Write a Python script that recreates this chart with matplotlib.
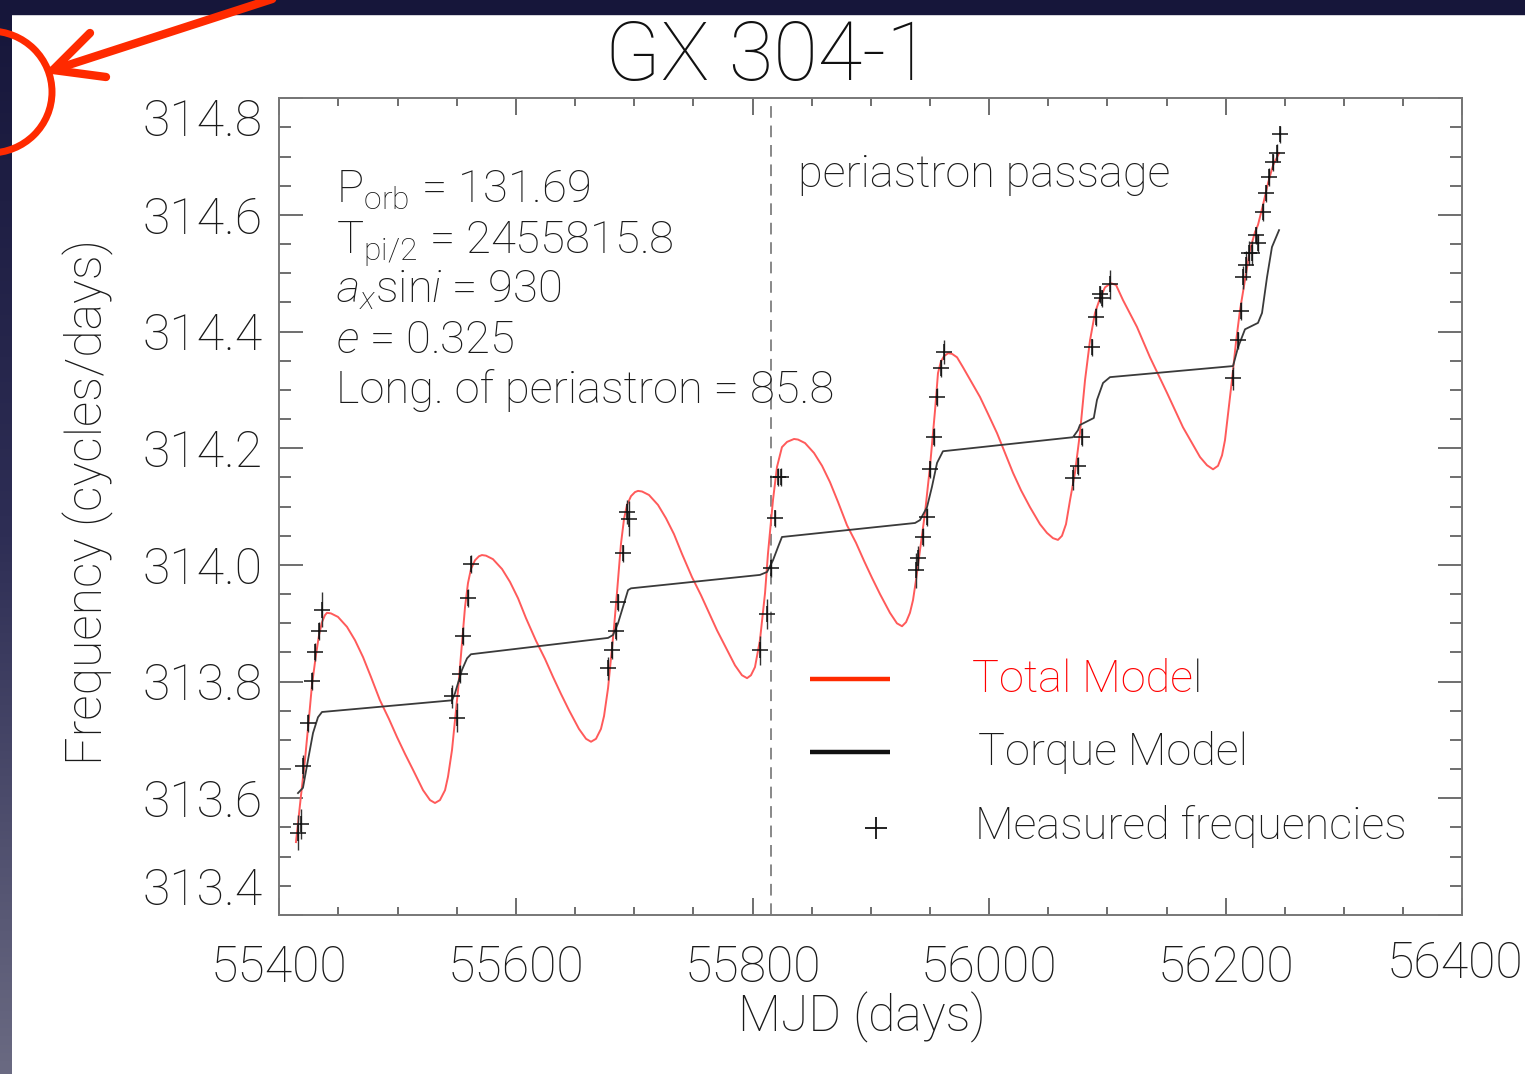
import numpy as np
import matplotlib.pyplot as plt
from matplotlib.ticker import MultipleLocator, FormatStrFormatter
from matplotlib.patches import Rectangle, Arc
from matplotlib.colors import LinearSegmentedColormap
from matplotlib.transforms import ScaledTranslation

plt.rcParams['font.family'] = ['Roboto', 'DejaVu Sans']
plt.rcParams['font.weight'] = 'light'
plt.rcParams['mathtext.fontset'] = 'custom'
plt.rcParams['mathtext.rm'] = 'Roboto:light'
plt.rcParams['mathtext.it'] = 'Roboto:light:italic'

# total model: orbital Doppler shift on top of the torque model
model_mjd = [55414.1, 55418.4, 55421.7, 55425.1, 55427.6, 55431.0, 55433.6, 55436.1, 55438.6, 55440.3,
             55443.7, 55449.6, 55457.2, 55464.0, 55470.8, 55477.5, 55485.1, 55492.7, 55499.5,
             55506.3, 55513.0, 55521.5, 55527.4, 55531.6,
             55535.8, 55540.1, 55542.6, 55546.0, 55548.5, 55551.1, 55553.6, 55557.0, 55559.5,
             55562.0, 55565.4, 55568.8, 55571.3,
             55574.7, 55580.6, 55588.3, 55595.0, 55601.8, 55608.5, 55617.0, 55624.6, 55631.4,
             55638.1, 55644.9, 55653.3, 55659.3, 55663.5,
             55667.7, 55671.9, 55674.5, 55677.9, 55680.4, 55682.9, 55685.5, 55688.8, 55691.4,
             55693.9, 55697.3, 55700.7, 55703.2,
             55706.6, 55712.5, 55720.1, 55726.9, 55733.6, 55740.4, 55748.9, 55756.5, 55763.2,
             55770.0, 55776.8, 55785.2, 55791.1, 55795.4,
             55798.7, 55802.1, 55806.3, 55810.6, 55813.1, 55817.3, 55820.7, 55824.9, 55829.2, 55835.1,
             55838.5, 55844.4, 55852.0, 55858.8, 55865.5, 55872.3, 55879.9, 55887.5, 55894.3,
             55901.0, 55907.8, 55916.2, 55922.1, 55926.4,
             55929.8, 55933.1, 55935.7, 55938.2, 55941.6, 55945.8, 55950.0, 55954.3, 55956.8,
             55959.3, 55961.9, 55965.3,
             55968.6, 55972.9, 55977.9, 55984.7, 55992.3, 55999.1, 56006.7, 56013.4, 56020.2,
             56027.0, 56034.6, 56043.0, 56048.9, 56054.0, 56058.2,
             56061.6, 56065.0, 56068.4, 56072.6, 56076.8, 56081.1, 56085.3, 56089.5, 56093.7,
             56098.0, 56103.0,
             56107.3, 56113.2, 56125.0, 56136.0, 56150.4, 56163.9, 56178.3, 56184.2, 56189.3,
             56193.5, 56196.9, 56199.4, 56201.9, 56205.3, 56208.7, 56212.1, 56216.3, 56220.5,
             56224.8, 56227.3, 56231.5, 56235.8, 56240.0, 56245.1]
model_freq = [313.525, 313.606, 313.666, 313.738, 313.794, 313.846, 313.880, 313.902, 313.914, 313.918,
              313.917, 313.911, 313.894, 313.871, 313.842, 313.808, 313.768, 313.736, 313.705,
              313.676, 313.649, 313.614, 313.597, 313.592,
              313.597, 313.614, 313.637, 313.683, 313.734, 313.786, 313.846, 313.928, 313.969,
              313.993, 314.008, 314.015, 314.017,
              314.016, 314.010, 313.993, 313.971, 313.943, 313.909, 313.870, 313.839, 313.808,
              313.779, 313.751, 313.719, 313.702, 313.697,
              313.702, 313.719, 313.741, 313.789, 313.840, 313.892, 313.954, 314.036, 314.079,
              314.103, 314.118, 314.125, 314.127,
              314.126, 314.120, 314.103, 314.080, 314.053, 314.019, 313.979, 313.948, 313.918,
              313.888, 313.861, 313.828, 313.811, 313.806,
              313.811, 313.825, 313.871, 313.952, 314.020, 314.111, 314.168, 314.202, 314.211, 314.216,
              314.215, 314.209, 314.192, 314.170, 314.142, 314.108, 314.068, 314.038, 314.007,
              313.978, 313.950, 313.918, 313.900, 313.895,
              313.902, 313.918, 313.940, 313.974, 314.026, 314.089, 314.168, 314.265, 314.329,
              314.349, 314.358, 314.363,
              314.362, 314.356, 314.339, 314.315, 314.288, 314.259, 314.226, 314.192, 314.158,
              314.128, 314.099, 314.070, 314.055, 314.046, 314.043,
              314.050, 314.070, 314.111, 314.158, 314.226, 314.317, 314.385, 314.432, 314.457,
              314.476, 314.483,
              314.480, 314.454, 314.408, 314.356, 314.295, 314.236, 314.185, 314.171, 314.164,
              314.170, 314.188, 314.214, 314.257, 314.317, 314.382, 314.437, 314.488, 314.540,
              314.571, 314.583, 314.617, 314.655, 314.685, 314.706]

# torque model alone
torque_mjd = [55415.8, 55420.0, 55424.3, 55428.5, 55432.7, 55436.1,
              55546.0, 55548.5, 55554.4, 55558.7, 55562.0,
              55677.9, 55682.1, 55686.3, 55690.5, 55694.8, 55697.3,
              55806.3, 55812.3, 55817.3, 55821.6, 55824.9,
              55937.4, 55941.6, 55947.5, 55951.7, 55956.0, 55961.0,
              56070.9, 56075.1, 56076.8, 56088.5, 56091.2, 56096.3, 56102.2,
              56206.2, 56210.4, 56216.3, 56227.3, 56230.7, 56234.9, 56239.1, 56245.1]
torque_freq = [313.609, 313.618, 313.666, 313.712, 313.739, 313.748,
               313.768, 313.780, 313.820, 313.840, 313.847,
               313.875, 313.880, 313.900, 313.928, 313.957, 313.960,
               313.983, 313.988, 314.008, 314.031, 314.048,
               314.072, 314.077, 314.099, 314.134, 314.175, 314.195,
               314.219, 314.231, 314.240, 314.252, 314.283, 314.312, 314.322,
               314.341, 314.373, 314.404, 314.415, 314.432, 314.493, 314.545, 314.574]

# measured spin frequencies
obs_mjd = [55415.8, 55418.3, 55420.0, 55424.3, 55427.6, 55430.2, 55433.6, 55436.1,
           55546.0, 55550.2, 55552.7, 55555.3, 55559.5, 55562.0,
           55677.9, 55681.2, 55684.6, 55686.3, 55690.5, 55693.9, 55695.6,
           55806.3, 55812.3, 55815.6, 55819.0, 55821.6, 55824.1,
           55938.2, 55939.9, 55944.1, 55947.5, 55950.0, 55953.4, 55955.9, 55959.3, 55961.9,
           56070.9, 56075.1, 56078.5, 56087.0, 56090.4, 56093.8, 56095.5, 56102.2,
           56206.2, 56210.4, 56213.0, 56214.7, 56217.2, 56219.7, 56222.2, 56225.6, 56227.3,
           56231.5, 56234.1, 56236.6, 56240.0, 56243.4, 56245.9]
obs_freq = [313.541, 313.556, 313.655, 313.729, 313.801, 313.851, 313.887, 313.923,
            313.775, 313.738, 313.813, 313.878, 313.943, 314.002,
            313.823, 313.854, 313.887, 313.936, 314.020, 314.091, 314.079,
            313.854, 313.916, 313.995, 314.080, 314.151, 314.151,
            313.991, 314.012, 314.048, 314.082, 314.164, 314.219, 314.288, 314.337, 314.365,
            314.149, 314.170, 314.219, 314.373, 314.425, 314.464, 314.457, 314.481,
            314.320, 314.385, 314.435, 314.493, 314.514, 314.535, 314.535, 314.565, 314.552,
            314.605, 314.637, 314.665, 314.690, 314.706, 314.738]
obs_err = [0.030, 0.025, 0.020, 0.015, 0.015, 0.015, 0.015, 0.030,
           0.020, 0.025, 0.015, 0.015, 0.015, 0.015,
           0.020, 0.015, 0.015, 0.015, 0.015, 0.020, 0.030,
           0.025, 0.025, 0.015, 0.015, 0.015, 0.015,
           0.030, 0.020, 0.015, 0.015, 0.015, 0.015, 0.015, 0.015, 0.020,
           0.020, 0.015, 0.015, 0.015, 0.015, 0.015, 0.015, 0.025,
           0.020, 0.015, 0.015, 0.020, 0.025, 0.020, 0.020, 0.015, 0.015,
           0.015, 0.015, 0.015, 0.015, 0.015, 0.015]

t_periastron = 55815.3

orbit_params = [r'P$_{\rm orb}$ = 131.69',
                r'T$_{\rm pi/2}$ = 2455815.8',
                r'$a_x$sin$i$ = 930',
                r'$e$ = 0.325',
                'Long. of periastron = 85.8']

W, H = 1525, 1074
fig = plt.figure(figsize=(W / 100, H / 100), dpi=100, facecolor='white')

ax = fig.add_axes([279.3 / W, 1 - 915 / H, 1183 / W, 816.7 / H])
ax.plot(model_mjd, model_freq, color='#ff5a5a', lw=1.4, zorder=3)
ax.plot(torque_mjd, torque_freq, color='#3a3a3a', lw=1.3, zorder=3)
ax.errorbar(obs_mjd, obs_freq, yerr=obs_err, fmt='none', ecolor='#333333',
            elinewidth=1.0, zorder=4)
ax.plot(obs_mjd, obs_freq, '+', color='#111111', ms=11, mew=1.1, zorder=5)
ax.axvline(t_periastron, color='#888888', lw=1.4, dashes=(6, 4), zorder=2)

ax.set_xlim(55400, 56400)
ax.set_ylim(313.4, 314.8)
ax.set_xticks(np.arange(55400, 56401, 200))
ax.set_yticks(np.arange(313.4, 314.81, 0.2))
ax.xaxis.set_minor_locator(MultipleLocator(50))
ax.yaxis.set_minor_locator(MultipleLocator(0.05))
ax.xaxis.set_major_formatter(FormatStrFormatter('%d'))
ax.yaxis.set_major_formatter(FormatStrFormatter('%.1f'))
ax.tick_params(which='both', direction='in', top=True, right=True,
               color='#555555', width=1.2, labelsize=36, labelcolor='#1a1a1a')
ax.tick_params(axis='x', which='major', length=12.5, pad=21)
ax.tick_params(axis='x', which='minor', length=6)
ax.tick_params(axis='y', which='major', length=17.5, pad=12)
ax.tick_params(axis='y', which='minor', length=8.5)
for s in ax.spines.values():
    s.set_color('#777777')
    s.set_linewidth(1.4)

# end labels sit inside the axis range
yt = ax.yaxis.get_major_ticks()
yt[0].label1.set_va('bottom')
yt[-1].label1.set_va('top')
last_x = ax.xaxis.get_major_ticks()[-1].label1
last_x.set_transform(last_x.get_transform() + ScaledTranslation(-0.07, 0.04, fig.dpi_scale_trans))

# everything else is placed in pixel coordinates on a transparent overlay
ov = fig.add_axes([0, 0, 1, 1], facecolor='none')
ov.axis('off')

navy = '#16163a'
ov.add_patch(Rectangle((0, 0), W, 14, color=navy, zorder=0))
grad = np.linspace(0, 1, 256).reshape(-1, 1)
strip_cmap = LinearSegmentedColormap.from_list('strip', [navy, '#2e2e55', '#6a6a82'])
ov.imshow(grad, extent=(0, 12, H, 0), cmap=strip_cmap, aspect='auto', zorder=0)
ov.set_xlim(0, W)
ov.set_ylim(H, 0)

ov.text(768, 58, 'GX 304-1', fontsize=58.5, ha='center', va='center', color='#111111')
ov.text(88, 502, 'Frequency (cycles/days)', fontsize=36, rotation=90,
        ha='center', va='center', color='#1a1a1a')
ov.text(862, 1017, 'MJD (days)', fontsize=36, ha='center', va='center', color='#1a1a1a')

for i, line in enumerate(orbit_params):
    ov.text(336, 203 + 50 * i, line, fontsize=32.7, ha='left', va='baseline', color='#1a1a1a')
ov.text(798, 175, 'periastron passage', fontsize=32.5, ha='left', va='center', color='#1a1a1a')

# legend
ov.plot([810, 890], [679, 679], color='#ff2a00', lw=3.2, solid_capstyle='butt')
ov.plot([810, 890], [752, 752], color='#111111', lw=3.2, solid_capstyle='butt')
ov.plot([876], [828], '+', color='#111111', ms=16, mew=1.3)
t1 = ov.text(972, 680, 'Total Mode', fontsize=32.5, ha='left', va='center', color='#ff0000')
ov.annotate('l', xy=(1, 0), xycoords=t1, va='bottom', ha='left', fontsize=32.5, color='#1a1a1a')
ov.text(978, 752, 'Torque Model', fontsize=32.5, ha='left', va='center', color='#1a1a1a')
ov.text(975, 826, 'Measured frequencies', fontsize=32.5, ha='left', va='center', color='#1a1a1a')

# red pointer drawn over the slide
red = '#ff2a00'
ov.plot([300, 53], [-10, 70], color=red, lw=6, solid_capstyle='round', zorder=10)
ov.plot([90, 53, 106], [33, 70, 77], color=red, lw=6, solid_capstyle='round',
        solid_joinstyle='round', zorder=10)
ov.add_patch(Arc((-10, 92), 124, 122, theta1=-90, theta2=90, color=red, lw=5, zorder=10))

fig.savefig('out.png', dpi=100)
